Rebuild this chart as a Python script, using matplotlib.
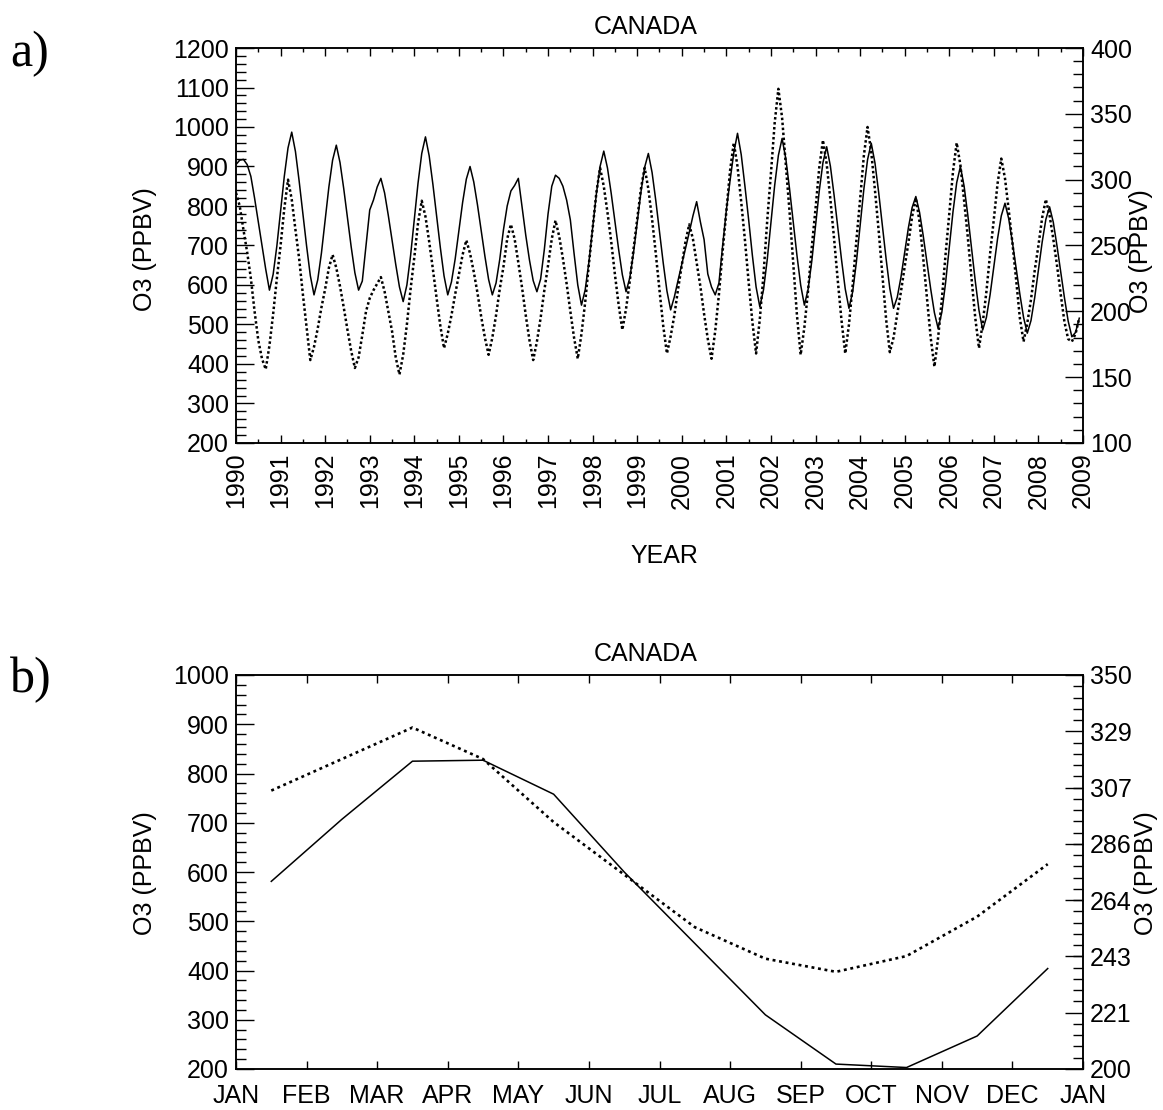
import numpy as np
import matplotlib.pyplot as plt
from matplotlib.ticker import MultipleLocator, FixedLocator

plt.rcParams['font.family'] = ['Liberation Sans', 'DejaVu Sans']
plt.rcParams['font.size'] = 18

# ---------------- data ----------------
years = list(range(1990, 2009))

# panel a) monthly O3, Jan..Dec per year, solid line (left axis)
solid_monthly = [
    [905, 916, 918, 905, 875, 820, 760, 700, 640, 587, 627, 699],  # 1990
    [787, 875, 947, 987, 938, 863, 781, 699, 624, 575, 613, 681],  # 1991
    [765, 848, 916, 954, 910, 844, 771, 697, 631, 587, 610, 700],  # 1992
    [790, 815, 848, 870, 833, 776, 714, 652, 595, 558, 600, 675],  # 1993
    [767, 858, 933, 975, 927, 855, 775, 695, 623, 575, 608, 666],  # 1994
    [738, 809, 868, 900, 861, 803, 738, 673, 614, 575, 605, 665],  # 1995
    [740, 800, 838, 852, 870, 797, 726, 663, 611, 583, 615, 690],  # 1996
    [780, 850, 878, 870, 850, 815, 765, 680, 600, 549, 588, 658],  # 1997
    [744, 830, 900, 939, 896, 832, 761, 690, 626, 583, 618, 681],  # 1998
    [758, 835, 898, 933, 885, 814, 735, 656, 585, 537, 570, 612],  # 1999
    [652, 692, 733, 775, 811, 760, 715, 628, 595, 575, 605, 700],  # 2000
    [790, 865, 935, 984, 930, 850, 765, 675, 595, 545, 588, 664],  # 2001
    [758, 852, 928, 971, 920, 844, 760, 675, 600, 549, 589, 661],  # 2002
    [750, 838, 910, 950, 901, 827, 745, 664, 590, 541, 583, 658],  # 2003
    [750, 842, 917, 959, 909, 834, 750, 666, 591, 541, 569, 620],  # 2004
    [682, 745, 796, 824, 784, 724, 657, 590, 530, 490, 531, 605],  # 2005
    [695, 785, 859, 900, 850, 776, 693, 610, 536, 486, 518, 576],  # 2006
    [646, 717, 775, 807, 768, 708, 643, 577, 518, 478, 510, 568],  # 2007
    [638, 708, 766, 798, 759, 699, 634, 568, 509, 469, 480, 516],  # 2008
]

# panel a) monthly O3, Jan..Dec per year, dotted line (right axis)
dotted_monthly = [
    [290, 280, 262, 245, 225, 200, 178, 164, 156, 174, 198, 225],  # 1990
    [250, 278, 300, 285, 262, 240, 213, 188, 163, 173, 187, 203],  # 1991
    [217, 233, 243, 233, 219, 203, 186, 170, 157, 165, 182, 200],  # 1992
    [210, 216, 221, 226, 215, 200, 185, 165, 152, 167, 190, 217],  # 1993
    [241, 267, 284, 272, 253, 232, 210, 189, 172, 183, 197, 213],  # 1994
    [228, 243, 254, 244, 230, 214, 196, 180, 167, 180, 197, 217],  # 1995
    [234, 255, 266, 255, 237, 218, 197, 178, 163, 177, 195, 216],  # 1996
    [235, 255, 269, 257, 240, 221, 200, 180, 164, 183, 207, 236],  # 1997
    [263, 290, 309, 295, 275, 253, 228, 205, 186, 202, 223, 247],  # 1998
    [270, 293, 309, 293, 270, 244, 216, 189, 168, 181, 197, 217],  # 1999
    [235, 253, 266, 255, 237, 219, 198, 179, 164, 185, 213, 246],  # 2000
    [276, 307, 328, 310, 283, 254, 222, 192, 168, 194, 228, 269],  # 2001
    [305, 343, 369, 347, 312, 276, 236, 197, 167, 188, 216, 249],  # 2002
    [278, 309, 330, 312, 285, 255, 223, 193, 168, 190, 220, 254],  # 2003
    [285, 318, 340, 321, 292, 261, 227, 194, 169, 180, 198, 215],  # 2004
    [234, 252, 272, 286, 268, 240, 210, 180, 158, 180, 209, 243],  # 2005
    [274, 306, 328, 311, 284, 256, 225, 195, 172, 191, 215, 244],  # 2006
    [270, 297, 316, 301, 277, 252, 224, 195, 177, 191, 209, 231],  # 2007
    [250, 271, 285, 273, 255, 235, 213, 192, 179, 177, 183, 195],  # 2008
]

# panel b) monthly climatology
months = ['JAN', 'FEB', 'MAR', 'APR', 'MAY', 'JUN',
          'JUL', 'AUG', 'SEP', 'OCT', 'NOV', 'DEC']
clim_solid = [581, 707, 825, 827, 758, 600, 455, 310, 210, 203, 267, 404]
clim_dotted = [306, 318, 330, 318, 294, 274, 254, 242, 237, 243, 258, 278]

right_ticks_b = [200, 221.43, 242.86, 264.29, 285.71, 307.14, 328.57, 350]

# ---------------- figure ----------------
W, H = 1163, 1110
fig = plt.figure(figsize=(W / 100, H / 100), dpi=100)

def px_axes(x0, y0, x1, y1):
    return fig.add_axes([x0 / W, 1 - y1 / H, (x1 - x0) / W, (y1 - y0) / H])

def style(ax, xmaj, xmin_len=0, xpad=9):
    for s in ax.spines.values():
        s.set_linewidth(1.1)
    ax.tick_params(axis='x', which='major', direction='in', length=xmaj,
                   width=1.0, top=True, pad=xpad)
    ax.tick_params(axis='x', which='minor', direction='in', length=xmin_len,
                   width=1.0, top=True)
    ax.tick_params(axis='y', which='major', direction='in', length=13,
                   width=1.0, pad=5)
    ax.tick_params(axis='y', which='minor', direction='in', length=7,
                   width=1.0)

# ---- panel a ----
ax1 = px_axes(236, 48, 1083, 443)
t = [yr + m / 12 for yr in years for m in range(12)]
s_vals = [v for row in solid_monthly for v in row]
d_vals = [v for row in dotted_monthly for v in row]

ax1.plot(t, s_vals, color='black', lw=1.1)
ax1.set_xlim(1990, 2009)
ax1.set_ylim(200, 1200)
ax1.yaxis.set_major_locator(MultipleLocator(100))
ax1.yaxis.set_minor_locator(MultipleLocator(20))
ax1.xaxis.set_minor_locator(MultipleLocator(0.5))
ax1.set_xticks(range(1990, 2010))
ax1.set_xticklabels([str(y) for y in range(1990, 2010)], rotation=90)
style(ax1, 6, 3, xpad=7)

ax1r = ax1.twinx()
ax1r.plot(t, d_vals, color='black', lw=1.8, linestyle=(0, (1.0, 1.0)))
ax1r.set_ylim(100, 400)
ax1r.yaxis.set_major_locator(MultipleLocator(50))
ax1r.yaxis.set_minor_locator(MultipleLocator(10))
style(ax1r, 6, 3)

fig.text(646 / W, 1 - 27 / H, 'CANADA', ha='center', va='center')
fig.text(664 / W, 1 - 556 / H, 'YEAR', ha='center', va='center')
fig.text(145 / W, 1 - 249 / H, 'O3 (PPBV)', rotation=90, ha='center', va='center')
fig.text(1141 / W, 1 - 251 / H, 'O3 (PPBV)', rotation=90, ha='center', va='center')

# ---- panel b ----
ax2 = px_axes(236, 675, 1083, 1069)
mx = [m + 0.5 for m in range(12)]
ax2.plot(mx, clim_solid, color='black', lw=1.1)
ax2.set_xlim(0, 12)
ax2.set_ylim(200, 1000)
ax2.yaxis.set_major_locator(MultipleLocator(100))
ax2.yaxis.set_minor_locator(MultipleLocator(20))
ax2.set_xticks(range(13))
ax2.set_xticklabels(months + ['JAN'])
style(ax2, 6, xpad=11)

ax2r = ax2.twinx()
ax2r.plot(mx, clim_dotted, color='black', lw=1.9, linestyle=(0, (1.1, 1.4)))
ax2r.set_ylim(200, 350)
ax2r.yaxis.set_major_locator(FixedLocator(right_ticks_b))
ax2r.set_yticklabels(['%.0f' % v for v in right_ticks_b])
ax2r.yaxis.set_minor_locator(FixedLocator(
    [200 + k * 150 / 35 for k in range(36)]))
style(ax2r, 6)

fig.text(646 / W, 1 - 654 / H, 'CANADA', ha='center', va='center')
fig.text(145 / W, 1 - 873 / H, 'O3 (PPBV)', rotation=90, ha='center', va='center')
fig.text(1146 / W, 1 - 873 / H, 'O3 (PPBV)', rotation=90, ha='center', va='center')

# panel letters
fig.text(30 / W, 1 - 54 / H, 'a)', family='Liberation Serif', fontsize=36,
         ha='center', va='center')
fig.text(31 / W, 1 - 680 / H, 'b)', family='Liberation Serif', fontsize=36,
         ha='center', va='center')

fig.savefig('out.png', dpi=100)
